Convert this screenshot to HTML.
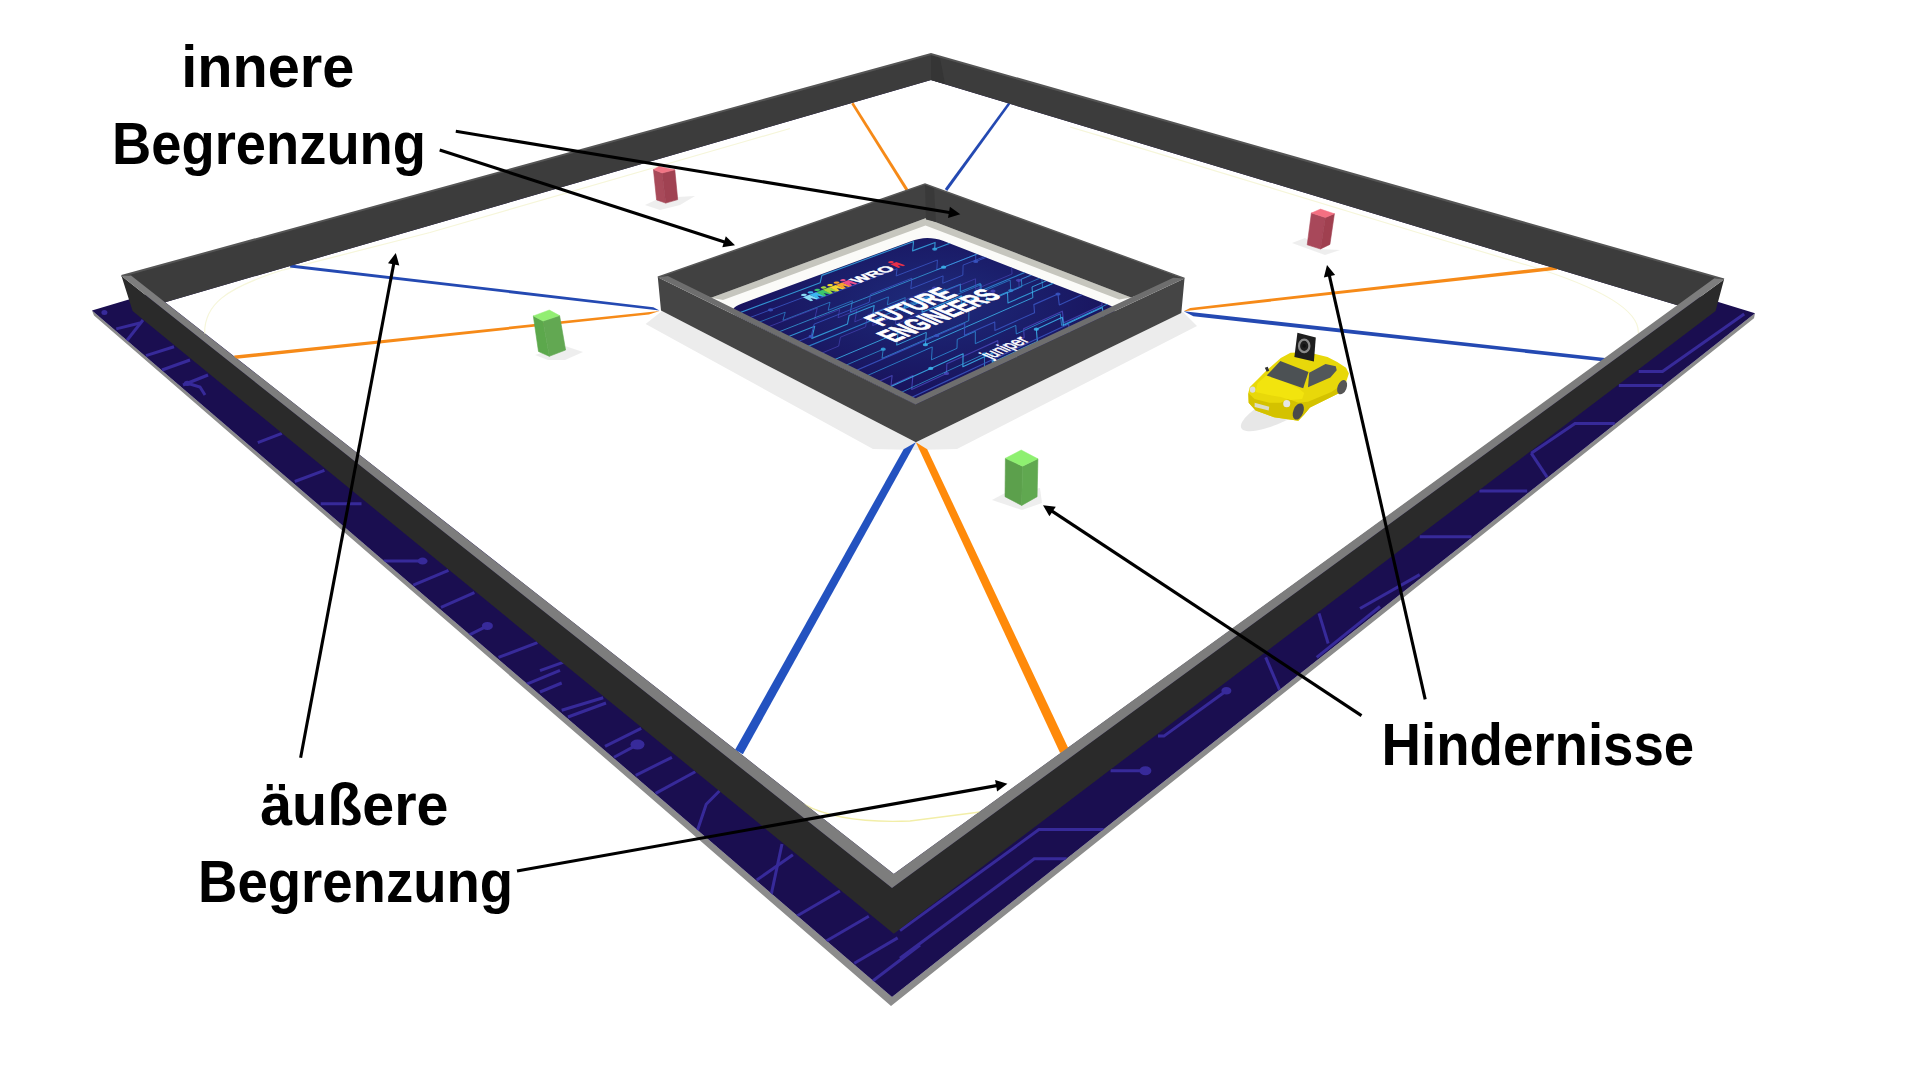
<!DOCTYPE html>
<html><head><meta charset="utf-8"><style>
html,body{margin:0;padding:0;background:#fff;width:1920px;height:1080px;overflow:hidden;position:relative}
svg.L{position:absolute;left:0;top:0;display:block}
text.lbl{font-family:"Liberation Sans",sans-serif;font-weight:bold;font-size:59px;fill:#000}
</style></head><body>
<svg class="L" width="1920" height="1080" viewBox="0 0 1920 1080">
<defs>
<clipPath id="matclip"><polygon points="92.0,310.4 931.0,60.0 1755.0,313.3 892.0,997.0"/></clipPath>
</defs>
<rect width="1920" height="1080" fill="#fff"/>
<polygon points="92.0,310.4 892.0,997.0 1755.0,313.3 1754.0,318.3 891.0,1006.0 94.0,315.4" fill="#8c8c8c" />
<polygon points="92.0,310.4 931.0,60.0 1755.0,313.3 892.0,997.0" fill="#1a0e50" id="matp"/>
<polyline points="116.3,328.9 140.0,323.0" fill="none" stroke="#372a9a" stroke-width="3" clip-path="url(#matclip)"/>
<polyline points="126.7,340.7 143.0,320.0" fill="none" stroke="#372a9a" stroke-width="3" clip-path="url(#matclip)"/>
<polyline points="146.0,355.6 174.0,346.7" fill="none" stroke="#372a9a" stroke-width="3" clip-path="url(#matclip)"/>
<polyline points="162.0,370.0 190.0,360.0" fill="none" stroke="#372a9a" stroke-width="3" clip-path="url(#matclip)"/>
<polyline points="183.0,385.0 208.0,375.0" fill="none" stroke="#372a9a" stroke-width="3" clip-path="url(#matclip)"/>
<polyline points="187.4,383.3 200.0,387.0 205.0,395.0" fill="none" stroke="#372a9a" stroke-width="3" clip-path="url(#matclip)"/>
<polyline points="257.8,442.6 281.9,433.3" fill="none" stroke="#372a9a" stroke-width="3" clip-path="url(#matclip)"/>
<polyline points="294.8,481.5 324.4,470.4" fill="none" stroke="#372a9a" stroke-width="3" clip-path="url(#matclip)"/>
<polyline points="320.7,503.7 361.5,503.7" fill="none" stroke="#372a9a" stroke-width="3" clip-path="url(#matclip)"/>
<polyline points="383.7,561.1 422.6,561.1" fill="none" stroke="#372a9a" stroke-width="3" clip-path="url(#matclip)"/>
<polyline points="413.3,585.2 448.5,570.4" fill="none" stroke="#372a9a" stroke-width="3" clip-path="url(#matclip)"/>
<polyline points="441.0,607.4 474.4,592.6" fill="none" stroke="#372a9a" stroke-width="3" clip-path="url(#matclip)"/>
<polyline points="468.9,635.2 487.4,625.9" fill="none" stroke="#372a9a" stroke-width="3" clip-path="url(#matclip)"/>
<polyline points="498.5,657.4 537.4,642.6" fill="none" stroke="#372a9a" stroke-width="3" clip-path="url(#matclip)"/>
<polyline points="524.4,685.2 560.0,670.4" fill="none" stroke="#372a9a" stroke-width="3" clip-path="url(#matclip)"/>
<polyline points="540.0,670.6 570.7,659.7" fill="none" stroke="#372a9a" stroke-width="3" clip-path="url(#matclip)"/>
<polyline points="540.0,692.0 561.7,683.0" fill="none" stroke="#372a9a" stroke-width="3" clip-path="url(#matclip)"/>
<polyline points="561.7,710.3 603.2,697.7" fill="none" stroke="#372a9a" stroke-width="3" clip-path="url(#matclip)"/>
<polyline points="568.0,717.0 606.0,703.0" fill="none" stroke="#372a9a" stroke-width="3" clip-path="url(#matclip)"/>
<polyline points="605.0,746.4 641.2,728.4" fill="none" stroke="#372a9a" stroke-width="3" clip-path="url(#matclip)"/>
<polyline points="614.0,757.3 637.5,744.6" fill="none" stroke="#372a9a" stroke-width="3" clip-path="url(#matclip)"/>
<polyline points="635.7,775.3 671.9,757.3" fill="none" stroke="#372a9a" stroke-width="3" clip-path="url(#matclip)"/>
<polyline points="655.6,793.4 695.3,771.7" fill="none" stroke="#372a9a" stroke-width="3" clip-path="url(#matclip)"/>
<polyline points="695.3,836.8 706.2,804.2 720.6,789.8" fill="none" stroke="#372a9a" stroke-width="3" clip-path="url(#matclip)"/>
<polyline points="756.8,880.0 792.9,854.8" fill="none" stroke="#372a9a" stroke-width="3" clip-path="url(#matclip)"/>
<polyline points="771.2,894.6 782.0,844.0" fill="none" stroke="#372a9a" stroke-width="3" clip-path="url(#matclip)"/>
<polyline points="796.5,916.2 839.9,891.0" fill="none" stroke="#372a9a" stroke-width="3" clip-path="url(#matclip)"/>
<polyline points="825.4,941.5 868.8,916.2" fill="none" stroke="#372a9a" stroke-width="3" clip-path="url(#matclip)"/>
<polyline points="854.3,963.2 897.7,937.9" fill="none" stroke="#372a9a" stroke-width="3" clip-path="url(#matclip)"/>
<polyline points="872.4,981.3 920.0,945.0" fill="none" stroke="#372a9a" stroke-width="3" clip-path="url(#matclip)"/>
<polyline points="900.0,958.3 1034.3,858.8 1066.7,858.8" fill="none" stroke="#372a9a" stroke-width="3" clip-path="url(#matclip)"/>
<polyline points="900.0,930.6 1038.9,829.6 1103.7,829.6" fill="none" stroke="#372a9a" stroke-width="3" clip-path="url(#matclip)"/>
<polyline points="1110.6,770.8 1145.4,770.8" fill="none" stroke="#372a9a" stroke-width="3" clip-path="url(#matclip)"/>
<polyline points="1158.0,736.1 1163.9,736.1 1226.4,690.7" fill="none" stroke="#372a9a" stroke-width="3" clip-path="url(#matclip)"/>
<polyline points="1265.7,657.4 1279.6,689.8" fill="none" stroke="#372a9a" stroke-width="3" clip-path="url(#matclip)"/>
<polyline points="1319.0,613.4 1328.2,643.5" fill="none" stroke="#372a9a" stroke-width="3" clip-path="url(#matclip)"/>
<polyline points="1316.7,657.4 1380.0,606.5" fill="none" stroke="#372a9a" stroke-width="3" clip-path="url(#matclip)"/>
<polyline points="1360.0,608.5 1419.7,574.6" fill="none" stroke="#372a9a" stroke-width="3" clip-path="url(#matclip)"/>
<polyline points="1419.7,536.8 1471.5,536.8" fill="none" stroke="#372a9a" stroke-width="3" clip-path="url(#matclip)"/>
<polyline points="1479.4,491.0 1527.2,491.0" fill="none" stroke="#372a9a" stroke-width="3" clip-path="url(#matclip)"/>
<polyline points="1531.2,453.2 1575.0,423.4 1614.8,423.4" fill="none" stroke="#372a9a" stroke-width="3" clip-path="url(#matclip)"/>
<polyline points="1531.2,453.2 1547.1,477.1" fill="none" stroke="#372a9a" stroke-width="3" clip-path="url(#matclip)"/>
<polyline points="1618.8,385.5 1662.5,385.5" fill="none" stroke="#372a9a" stroke-width="3" clip-path="url(#matclip)"/>
<polyline points="1638.7,371.6 1662.5,371.6 1744.2,313.9" fill="none" stroke="#372a9a" stroke-width="3" clip-path="url(#matclip)"/>
<ellipse cx="104.4" cy="312.6" rx="3" ry="2.5" fill="#372a9a" clip-path="url(#matclip)"/>
<ellipse cx="187.4" cy="383.3" rx="3.5" ry="2.6" fill="#372a9a" clip-path="url(#matclip)"/>
<ellipse cx="422.6" cy="561.1" rx="5" ry="3.5" fill="#372a9a" clip-path="url(#matclip)"/>
<ellipse cx="487.4" cy="625.9" rx="5.5" ry="4" fill="#372a9a" clip-path="url(#matclip)"/>
<ellipse cx="637.5" cy="744.6" rx="7" ry="5" fill="#372a9a" clip-path="url(#matclip)"/>
<ellipse cx="1145.4" cy="770.8" rx="6" ry="4.5" fill="#372a9a" clip-path="url(#matclip)"/>
<ellipse cx="1226.4" cy="690.7" rx="5" ry="3.8" fill="#372a9a" clip-path="url(#matclip)"/>
<polygon points="931.0,80.0 1678.3,305.6 893.8,874.0 165.2,302.2" fill="#ffffff" />
<path d="M 204.6,334 C 204,305 225,288 283.7,269.8 L 430,232.5 L 750,140 L 790,128.5 M 1070,127 L 1100,135.8 L 1420,233.3 L 1530,266 Q 1640,300 1638.3,333" fill="none" stroke="#f6f6da" stroke-width="1.2"/>
<path d="M 803.7,804.2 C 825,816 860,823 910,821 L 980,812" fill="none" stroke="#f2eea8" stroke-width="1.4"/>
<polygon points="645.6,324.0 662.0,311.0 915.9,442.3 1183.0,312.0 1197.0,326.0 957.0,449.0 915.9,450.0 873.0,449.0" fill="#ececec" />
<polygon points="908.3,189.2 853.5,102.6 851.3,104.0 905.7,190.8" fill="#f68a18" />
<polygon points="947.2,190.9 1010.3,104.1 1008.3,102.5 944.8,189.1" fill="#2449b2" />
<polygon points="659.5,310.6 653.3,307.2 290.4,264.4 290.0,267.4" fill="#2449b2" />
<polygon points="659.5,311.0 648.9,314.4 234.6,359.1 234.2,355.5" fill="#f68a18" />
<polygon points="1183.7,311.2 1190.2,307.9 1556.8,266.3 1557.2,269.7" fill="#f68a18" />
<polygon points="1183.7,311.2 1605.0,357.9 1604.6,361.5 1193.4,316.3" fill="#2449b2" />
<polygon points="915.9,442.3 903.6,449.2 735.1,749.8 742.9,754.2" fill="#2352c0" />
<polygon points="915.9,442.3 1060.1,753.1 1068.7,748.9 927.2,449.2" fill="#ff8a0a" />
<polygon points="121.5,276.0 931.0,54.0 1724.0,279.4 1678.3,305.6 931.0,80.0 165.2,302.2" fill="#3c3c3c" />
<polygon points="931.0,54.0 931.0,80.0 945.0,84.0 940.0,58.0" fill="#353535" />
<polyline points="121.5,276.0 931.0,54.0 1724.0,279.4" fill="none" stroke="#555" stroke-width="2"/>
<polygon points="121.5,276.0 892.0,888.0 1724.0,279.4 1715.6,311.0 893.8,933.8 132.6,311.0" fill="#2a2a2a" />
<polygon points="121.5,276.0 131.0,275.6 893.8,874.0 1714.4,278.3 1724.0,279.4 892.0,888.0" fill="#7d7d7d" />
<polygon points="925.5,218.2 1131.2,297.5 915.6,398.3 711.0,297.8" fill="#fbfbf8" />
<polygon points="711.0,297.8 925.5,218.2 1131.2,297.5 1119.2,299.5 925.5,225.4 723.0,300.0" fill="#c6c6be" />
</svg>
<svg class="L" width="1920" height="1080" viewBox="0 0 1920 1080">
<defs><radialGradient id="mg" gradientUnits="userSpaceOnUse" cx="931.9" cy="302.7" r="190" gradientTransform="translate(931.9 302.7) scale(1 0.45) translate(-931.9 -302.7)"><stop offset="0" stop-color="#1e2c7c"/><stop offset="0.5" stop-color="#1b1f6c"/><stop offset="1" stop-color="#19145e"/></radialGradient><clipPath id="mclip"><polygon points="734.13,314.84 733.08,313.22 732.61,311.66 732.74,310.15 733.44,308.70 734.73,307.31 736.59,305.97 739.02,304.68 742.02,303.44 910.31,241.51 914.72,240.06 919.02,239.01 923.22,238.34 927.32,238.06 931.34,238.16 935.27,238.65 939.13,239.53 942.93,240.79 1102.89,302.85 1107.16,304.30 1110.53,305.73 1113.00,307.12 1114.56,308.49 1115.20,309.83 1114.92,311.14 1113.72,312.42 1111.58,313.67 917.23,405.83"/></clipPath></defs>
<polygon points="734.13,314.84 733.08,313.22 732.61,311.66 732.74,310.15 733.44,308.70 734.73,307.31 736.59,305.97 739.02,304.68 742.02,303.44 910.31,241.51 914.72,240.06 919.02,239.01 923.22,238.34 927.32,238.06 931.34,238.16 935.27,238.65 939.13,239.53 942.93,240.79 1102.89,302.85 1107.16,304.30 1110.53,305.73 1113.00,307.12 1114.56,308.49 1115.20,309.83 1114.92,311.14 1113.72,312.42 1111.58,313.67 917.23,405.83" fill="url(#mg)"/>
<g clip-path="url(#mclip)" fill="none" stroke-linejoin="round" stroke-linecap="round">
<polyline points="731.89,315.67 776.72,298.95 820.14,282.77 821.93,275.36 848.88,265.43 888.72,250.73 913.56,241.57 912.58,250.88 935.11,242.45 934.65,249.08 967.97,236.47" stroke="#36a8e4" stroke-width="1.12" opacity="0.85"/>
<ellipse cx="934.7" cy="249.1" rx="2.6" ry="1.6" fill="#36a8e4" stroke="none" opacity="0.85"/>
<ellipse cx="968.0" cy="236.5" rx="2.6" ry="1.6" fill="#36a8e4" stroke="none" opacity="0.85"/>
<polyline points="741.84,320.63 770.57,309.77 818.13,291.80 816.24,299.60 844.49,288.80 863.78,281.43 897.08,268.71 896.16,275.95 937.43,260.00 936.80,269.89 975.72,254.61 975.71,261.51 1011.45,247.31" stroke="#3a56c4" stroke-width="0.96" opacity="0.85"/>
<ellipse cx="770.6" cy="309.8" rx="2.6" ry="1.6" fill="#3a56c4" stroke="none" opacity="0.85"/>
<ellipse cx="975.7" cy="261.5" rx="2.6" ry="1.6" fill="#3a56c4" stroke="none" opacity="0.85"/>
<polyline points="751.08,325.23 785.26,312.16 782.91,320.45 830.01,302.23 828.23,310.27 852.44,300.80 850.33,312.06 888.45,296.90 887.39,304.80 905.23,297.62 904.37,305.53 945.00,289.00 944.46,299.83 981.33,284.57 981.37,292.16 1010.19,280.08 1010.73,290.60 1041.67,277.41 1042.72,287.83 1063.51,278.81 1064.51,286.25 1080.22,279.35 1081.89,289.82 1104.66,279.64" stroke="#2f8ed8" stroke-width="0.80" opacity="0.85"/>
<ellipse cx="1010.7" cy="290.6" rx="2.6" ry="1.6" fill="#2f8ed8" stroke="none" opacity="0.85"/>
<polyline points="760.44,329.90 790.97,318.08 817.29,307.89 814.55,319.39 839.71,309.49 838.03,317.71 856.80,310.24 854.73,321.81 874.44,313.84 872.67,325.54 896.32,315.81 895.32,324.16 924.34,312.08 923.70,320.34 957.80,305.96 993.02,291.12 993.20,298.86 1019.22,287.76 1018.74,280.28 1034.99,273.42 1066.29,260.23" stroke="#4846b8" stroke-width="0.80" opacity="0.85"/>
<ellipse cx="993.0" cy="291.1" rx="2.6" ry="1.6" fill="#4846b8" stroke="none" opacity="0.85"/>
<ellipse cx="1018.7" cy="280.3" rx="2.6" ry="1.6" fill="#4846b8" stroke="none" opacity="0.85"/>
<polyline points="770.79,335.06 798.30,324.26 827.48,312.80 862.36,299.11 892.71,287.20 917.61,277.42 943.57,267.23 977.30,253.99 996.25,246.55 996.46,253.26 1016.32,245.38 1016.92,254.78" stroke="#3cb6ee" stroke-width="0.80" opacity="0.85"/>
<ellipse cx="1016.9" cy="254.8" rx="2.6" ry="1.6" fill="#3cb6ee" stroke="none" opacity="0.85"/>
<ellipse cx="943.6" cy="267.2" rx="2.6" ry="1.6" fill="#3cb6ee" stroke="none" opacity="0.85"/>
<polyline points="780.41,339.85 814.69,326.22 811.83,338.37 847.51,323.95 849.08,315.59 874.17,305.57 872.92,313.68 905.29,300.60 904.42,308.59 922.95,301.01 922.03,312.25 961.45,295.86 961.26,303.72 986.57,293.06 986.68,300.85 1007.47,291.99 1007.97,302.90 1039.37,289.28 1077.72,272.65 1076.59,265.52" stroke="#36a8e4" stroke-width="1.12" opacity="0.85"/>
<polyline points="790.16,344.71 811.13,336.27 814.00,324.19 849.75,310.02 869.19,302.32 870.46,294.48 911.89,278.25 910.83,288.73 943.11,275.88 942.72,283.27 962.85,275.16 963.08,265.12 980.98,258.02 1002.23,249.61" stroke="#3a56c4" stroke-width="0.96" opacity="0.85"/>
<ellipse cx="811.1" cy="336.3" rx="2.6" ry="1.6" fill="#3a56c4" stroke="none" opacity="0.85"/>
<polyline points="800.04,349.64 846.43,330.71 887.30,314.03 906.78,306.08 925.02,298.64 960.45,284.19 960.25,291.77 980.22,283.52 980.26,291.09 1008.34,279.35 1038.64,266.68 1039.62,276.76 1073.79,262.23 1072.73,255.33" stroke="#2f8ed8" stroke-width="1.12" opacity="0.85"/>
<ellipse cx="800.0" cy="349.6" rx="2.6" ry="1.6" fill="#2f8ed8" stroke="none" opacity="0.85"/>
<ellipse cx="925.0" cy="298.6" rx="2.6" ry="1.6" fill="#2f8ed8" stroke="none" opacity="0.85"/>
<polyline points="813.73,356.46 838.70,346.08 840.43,337.18 865.60,326.85 867.50,315.10 898.85,302.45 934.53,288.04 934.03,295.72 975.48,278.79 975.45,289.27 1012.04,274.07 1011.65,266.90 1041.15,254.79 1042.15,264.49" stroke="#4846b8" stroke-width="0.80" opacity="0.85"/>
<ellipse cx="934.5" cy="288.0" rx="2.6" ry="1.6" fill="#4846b8" stroke="none" opacity="0.85"/>
<ellipse cx="1041.1" cy="254.8" rx="2.6" ry="1.6" fill="#4846b8" stroke="none" opacity="0.85"/>
<polyline points="826.73,362.94 858.06,349.70 898.05,332.80 896.64,345.16 926.30,332.41 925.40,344.74 961.64,328.88 981.16,320.34 1011.38,307.11 1032.90,297.70 1032.00,286.96 1057.04,276.19 1088.30,262.75" stroke="#3cb6ee" stroke-width="0.96" opacity="0.85"/>
<ellipse cx="925.4" cy="344.7" rx="2.6" ry="1.6" fill="#3cb6ee" stroke="none" opacity="0.85"/>
<ellipse cx="1057.0" cy="276.2" rx="2.6" ry="1.6" fill="#3cb6ee" stroke="none" opacity="0.85"/>
<polyline points="838.05,368.58 883.24,349.20 882.03,358.41 916.27,343.53 936.82,334.61 968.79,320.73 968.93,309.22 986.69,301.64 1021.89,286.62 1021.38,279.16 1048.69,267.65 1049.50,274.83 1066.78,267.46" stroke="#36a8e4" stroke-width="0.80" opacity="0.85"/>
<ellipse cx="883.2" cy="349.2" rx="2.6" ry="1.6" fill="#36a8e4" stroke="none" opacity="0.85"/>
<polyline points="848.59,373.83 898.49,352.13 936.77,335.48 964.68,323.35 964.46,335.35 994.72,321.95 994.94,330.44 1034.54,312.68 1033.86,304.63 1057.96,293.96 1059.30,304.93 1098.83,287.11" stroke="#3a56c4" stroke-width="1.12" opacity="0.85"/>
<ellipse cx="1058.0" cy="294.0" rx="2.6" ry="1.6" fill="#3a56c4" stroke="none" opacity="0.85"/>
<ellipse cx="936.8" cy="335.5" rx="2.6" ry="1.6" fill="#3a56c4" stroke="none" opacity="0.85"/>
<polyline points="859.26,379.15 901.25,360.64 932.28,346.95 931.47,359.81 956.97,348.36 957.23,339.42 975.33,331.40 975.30,343.68 1015.81,325.40 1016.29,333.97 1038.02,324.03 1060.21,313.88 1061.63,325.53 1081.89,316.09 1121.23,297.76" stroke="#2f8ed8" stroke-width="0.96" opacity="0.85"/>
<ellipse cx="1121.2" cy="297.8" rx="2.6" ry="1.6" fill="#2f8ed8" stroke="none" opacity="0.85"/>
<polyline points="871.08,385.04 892.13,375.61 891.00,385.52 912.88,375.59 911.67,389.52 946.46,373.44 946.86,363.86 976.69,350.25 997.78,340.63 998.04,349.60 1024.19,337.51 1023.62,328.85 1062.35,311.19 1063.80,322.74 1102.15,304.92 1100.68,297.06 1125.20,285.82 1127.62,296.49" stroke="#4846b8" stroke-width="1.12" opacity="0.85"/>
<ellipse cx="946.5" cy="373.4" rx="2.6" ry="1.6" fill="#4846b8" stroke="none" opacity="0.85"/>
<ellipse cx="1125.2" cy="285.8" rx="2.6" ry="1.6" fill="#4846b8" stroke="none" opacity="0.85"/>
<polyline points="882.08,390.52 930.71,368.42 963.11,353.71 962.85,366.80 992.08,353.28 992.27,362.57 1037.37,341.41 1036.33,329.22 1062.34,317.25 1063.39,325.61 1102.25,307.48 1104.37,318.89 1121.24,310.86 1119.54,302.87 1156.27,285.64" stroke="#3cb6ee" stroke-width="1.12" opacity="0.85"/>
<ellipse cx="930.7" cy="368.4" rx="2.6" ry="1.6" fill="#3cb6ee" stroke="none" opacity="0.85"/>
<ellipse cx="1036.3" cy="329.2" rx="2.6" ry="1.6" fill="#3cb6ee" stroke="none" opacity="0.85"/>
<polyline points="893.23,396.08 918.47,384.44 941.43,373.86 984.39,354.05 984.52,367.16 1016.30,352.23 1017.01,365.26 1041.05,353.75 1042.21,366.82 1085.08,345.89 1086.45,354.97 1122.52,337.11 1149.78,323.61 1151.91,332.11 1168.84,323.61 1171.20,332.11 1186.88,324.12 1214.90,309.83" stroke="#36a8e4" stroke-width="0.80" opacity="0.85"/>
<ellipse cx="1171.2" cy="332.1" rx="2.6" ry="1.6" fill="#36a8e4" stroke="none" opacity="0.85"/>
<ellipse cx="984.4" cy="354.1" rx="2.6" ry="1.6" fill="#36a8e4" stroke="none" opacity="0.85"/>
<polyline points="903.50,401.20 951.27,378.88 976.68,367.01 1007.83,352.46 1051.09,332.25 1068.61,324.06 1070.20,336.06 1110.67,316.79 1149.22,298.44 1151.27,306.32" stroke="#3a56c4" stroke-width="1.12" opacity="0.85"/>
</g>
<polygon points="802.86,297.29 809.53,294.77 818.39,298.49 816.11,299.36 810.42,297.97 813.19,300.47 810.89,301.35" fill="#8adcf5"/><polygon points="806.14,294.09 806.76,294.62 806.60,295.25 805.70,295.80 804.31,296.11 802.79,296.12 801.56,295.81 800.95,295.27 801.12,294.64 802.02,294.10 803.41,293.78 804.92,293.78" fill="#8adcf5"/>
<polygon points="809.53,294.77 816.15,292.27 825.01,295.96 822.74,296.83 817.06,295.44 819.85,297.93 817.56,298.80" fill="#3bb8ee"/><polygon points="812.77,291.59 813.39,292.13 813.23,292.75 812.34,293.29 810.96,293.61 809.45,293.61 808.22,293.30 807.60,292.77 807.77,292.15 808.66,291.61 810.04,291.29 811.54,291.29" fill="#3bb8ee"/>
<polygon points="816.15,292.27 822.71,289.79 831.57,293.45 829.32,294.31 823.65,292.94 826.45,295.41 824.19,296.28" fill="#3cc46c"/><polygon points="819.34,289.12 819.96,289.65 819.81,290.27 818.93,290.80 817.55,291.12 816.05,291.12 814.83,290.82 814.21,290.28 814.36,289.67 815.24,289.13 816.62,288.82 818.12,288.82" fill="#3cc46c"/>
<polygon points="822.71,289.79 829.22,287.33 838.09,290.97 835.85,291.82 830.19,290.46 833.00,292.91 830.76,293.77" fill="#a2d63c"/><polygon points="825.86,286.66 826.48,287.19 826.34,287.80 825.47,288.34 824.10,288.65 822.60,288.65 821.38,288.35 820.76,287.82 820.91,287.21 821.78,286.68 823.15,286.37 824.64,286.36" fill="#a2d63c"/>
<polygon points="829.22,287.33 835.68,284.89 844.55,288.50 842.33,289.35 836.68,287.99 839.50,290.43 837.28,291.28" fill="#f2d630"/><polygon points="832.33,284.23 832.95,284.75 832.82,285.36 831.96,285.89 830.60,286.20 829.11,286.20 827.88,285.90 827.26,285.38 827.40,284.77 828.27,284.24 829.62,283.93 831.11,283.93" fill="#f2d630"/>
<polygon points="835.68,284.89 842.10,282.47 850.96,286.05 848.76,286.89 843.12,285.55 845.95,287.96 843.74,288.81" fill="#f6a230"/><polygon points="838.74,281.81 839.37,282.33 839.25,282.93 838.39,283.46 837.04,283.76 835.56,283.77 834.34,283.47 833.71,282.95 833.84,282.35 834.70,281.83 836.05,281.52 837.53,281.52" fill="#f6a230"/>
<polygon points="842.10,282.47 848.46,280.07 857.32,283.62 855.14,284.46 849.50,283.12 852.35,285.52 850.16,286.36" fill="#ec4f8c"/><polygon points="845.11,279.41 845.75,279.93 845.62,280.53 844.78,281.05 843.44,281.35 841.96,281.36 840.74,281.06 840.11,280.54 840.24,279.95 841.09,279.43 842.43,279.12 843.90,279.12" fill="#ec4f8c"/>
<polygon points="890.34,264.26 896.33,261.99 905.18,265.35 903.12,266.13 897.56,264.87 900.50,267.13 898.43,267.92" fill="#e8304a"/><polygon points="893.04,261.37 893.69,261.86 893.62,262.42 892.83,262.91 891.55,263.20 890.12,263.20 888.92,262.92 888.27,262.43 888.35,261.87 889.14,261.38 890.41,261.10 891.84,261.09" fill="#e8304a"/>
<text transform="matrix(0.193225 -0.073329 0.169292 0.072261 738.482 305.729)" x="470" y="170" font-family="Liberation Sans" font-weight="bold" font-size="80" fill="#fff" stroke="#fff" stroke-width="3" textLength="196" lengthAdjust="spacingAndGlyphs">WRO</text>
<text transform="matrix(0.198098 -0.081116 0.182154 0.079615 731.980 307.496)" x="470" y="520" text-anchor="middle" font-family="Liberation Sans" font-weight="bold" font-size="150" fill="#fff" stroke="#fff" stroke-width="5" stroke-linejoin="round" textLength="390" lengthAdjust="spacingAndGlyphs">FUTURE</text>
<text transform="matrix(0.196908 -0.083207 0.187648 0.081586 729.611 307.447)" x="492" y="650" text-anchor="middle" font-family="Liberation Sans" font-weight="bold" font-size="150" fill="#fff" stroke="#fff" stroke-width="5" stroke-linejoin="round" textLength="550" lengthAdjust="spacingAndGlyphs">ENGINEERS</text>
<text transform="matrix(0.197258 -0.091291 0.204084 0.089200 716.598 305.383)" x="372" y="985" font-family="Liberation Sans" font-size="90" fill="#fff" stroke="#fff" stroke-width="3" textLength="200" lengthAdjust="spacingAndGlyphs">juniper</text>
</svg>
<svg class="L" width="1920" height="1080" viewBox="0 0 1920 1080">
<polygon points="657.8,277.2 925.0,184.0 1184.5,278.4 1131.2,297.5 925.5,218.2 711.0,297.8" fill="#414141" />
<polygon points="925.0,184.0 926.0,219.6 936.0,222.0 934.0,188.0" fill="#393939" />
<polyline points="657.8,277.2 925.0,184.0 1184.5,278.4" fill="none" stroke="#575757" stroke-width="1.5"/>
<polygon points="657.8,277.2 915.6,404.4 1184.5,278.4 1181.3,313.0 915.9,442.3 661.0,310.6" fill="#454545" />
<polygon points="657.8,277.2 667.8,276.1 915.6,398.3 1173.3,277.8 1184.5,278.4 915.6,404.4" fill="#6e6e6e" />
<polygon points="645.0,205.0 660.0,198.0 695.0,196.0 680.0,205.0 660.0,210.0" fill="#e8e8e8" opacity="0.75"/>
<polygon points="653.4,169.4 662.1,173.0 665.7,203.1 656.6,199.9" fill="#a84a5a" stroke="#a84a5a" stroke-width="0.6" stroke-linejoin="round"/>
<polygon points="662.1,173.0 674.8,169.8 677.7,199.6 665.7,203.1" fill="#a04252" stroke="#a04252" stroke-width="0.6" stroke-linejoin="round"/>
<polygon points="653.4,169.4 658.9,166.5 674.8,169.8 662.1,173.0" fill="#f27585" stroke="#f27585" stroke-width="0.5" stroke-linejoin="round"/>
<polygon points="1292.0,243.0 1305.0,238.0 1320.0,249.0 1340.0,250.0 1325.0,255.0" fill="#e8e8e8" opacity="0.75"/>
<polygon points="1311.4,213.0 1325.4,217.5 1320.5,249.0 1307.2,244.8" fill="#a8485a" stroke="#a8485a" stroke-width="0.6" stroke-linejoin="round"/>
<polygon points="1325.4,217.5 1334.4,213.7 1329.9,244.4 1320.5,249.0" fill="#a04050" stroke="#a04050" stroke-width="0.6" stroke-linejoin="round"/>
<polygon points="1311.4,213.0 1320.5,209.1 1334.4,213.7 1325.4,217.5" fill="#f47082" stroke="#f47082" stroke-width="0.5" stroke-linejoin="round"/>
<polygon points="535.0,355.0 565.0,346.0 583.0,352.0 565.0,360.0 548.0,360.0" fill="#e8e8e8" opacity="0.75"/>
<polygon points="533.3,315.9 543.0,321.1 549.3,356.3 538.5,351.5" fill="#5ca84c" stroke="#5ca84c" stroke-width="0.6" stroke-linejoin="round"/>
<polygon points="543.0,321.1 559.6,315.6 565.6,350.0 549.3,356.3" fill="#62a852" stroke="#62a852" stroke-width="0.6" stroke-linejoin="round"/>
<polygon points="533.3,315.9 549.3,310.0 559.6,315.6 543.0,321.1" fill="#92ee72" stroke="#92ee72" stroke-width="0.5" stroke-linejoin="round"/>
<polygon points="992.0,500.0 1005.0,493.0 1040.0,488.0 1042.0,503.0 1022.0,510.0" fill="#e8e8e8" opacity="0.75"/>
<polygon points="1005.4,458.3 1022.5,466.2 1021.7,505.4 1005.0,496.7" fill="#5ca04c" stroke="#5ca04c" stroke-width="0.6" stroke-linejoin="round"/>
<polygon points="1022.5,466.2 1037.9,458.8 1037.1,496.7 1021.7,505.4" fill="#60a850" stroke="#60a850" stroke-width="0.6" stroke-linejoin="round"/>
<polygon points="1005.4,458.3 1021.2,450.0 1037.9,458.8 1022.5,466.2" fill="#8ef070" stroke="#8ef070" stroke-width="0.5" stroke-linejoin="round"/>

<ellipse cx="1280.8" cy="408.6" rx="44" ry="13" fill="#e4e4e4" opacity="0.9" transform="rotate(-26 1280.8 408.6)"/>
<polygon points="1248.3,393.0 1248.7,402.8 1255.6,410.5 1274.0,417.3 1291.5,419.8 1298.3,420.8 1304.2,414.4 1310.0,407.6 1335.3,395.0 1339.2,393.0 1345.0,385.3 1348.9,373.6 1346.0,367.8 1337.2,361.9 1327.5,357.1 1308.0,352.2 1290.5,352.7 1280.8,358.1 1266.2,370.7 1257.5,379.4 1249.7,387.2" fill="#e8d80a"/>
<polygon points="1248.3,393.0 1248.7,402.8 1255.6,410.5 1274.0,417.3 1291.5,419.8 1298.3,420.8 1304.2,414.4 1310.0,407.6 1335.3,395.0 1339.2,393.0 1345.0,385.3 1344.0,383.3 1331.4,392.1 1308.0,401.8 1298.3,402.8 1288.6,398.9 1280.8,402.8 1269.2,402.8 1254.6,398.9" fill="#d4c200"/>
<polygon points="1257.5,383.3 1266.2,375.5 1280.8,379.4 1298.3,388.2 1304.2,393.0 1302.2,398.9 1290.5,399.9 1280.8,396.9 1269.2,395.0 1255.6,392.1" fill="#f2e40e"/>
<polygon points="1280.3,361.0 1308.5,372.1 1303.2,388.2 1266.7,375.5" fill="#4c5154"/>
<polygon points="1309.2,372.8 1325.5,363.9 1335.8,366.3 1336.7,370.2 1330.4,377.5 1308.0,387.2" fill="#52575a"/>
<ellipse cx="1298.3" cy="411.5" rx="5" ry="8.5" fill="#4a4a4a" transform="rotate(22 1298.3 411.5)"/>
<ellipse cx="1342.1" cy="387.2" rx="4.5" ry="7.5" fill="#555" transform="rotate(22 1342.1 387.2)"/>
<ellipse cx="1252.6" cy="389.6" rx="2.8" ry="3.2" fill="#ddd"/>
<ellipse cx="1286.7" cy="403.7" rx="3.5" ry="3.6" fill="#e6e6e6"/>
<polygon points="1254.6,402.8 1269.2,406.7 1268.7,410.5 1254.6,407.1" fill="#dcdcc8"/>
<polygon points="1264.8,367.8 1267.7,366.8 1269.2,370.7 1266.7,371.7" fill="#333"/>
<polygon points="1297.4,332.8 1315.8,337.6 1313.9,361.5 1294.4,357.1" fill="#1e1e1e"/>
<ellipse cx="1304.2" cy="345.9" rx="5.2" ry="6.2" fill="none" stroke="#8a8a8a" stroke-width="2.2"/>
<circle cx="1304.2" cy="345.9" r="1.8" fill="#111"/>

<line x1="455.8" y1="131.3" x2="950.9" y2="212.7" stroke="#000" stroke-width="3.1"/>
<polygon points="960.3,214.2 948.0,218.0 949.9,206.7" fill="#000" />
<line x1="439.7" y1="150.0" x2="726.0" y2="242.4" stroke="#000" stroke-width="3.1"/>
<polygon points="735.0,245.3 722.3,247.2 725.8,236.3" fill="#000" />
<line x1="300.6" y1="757.7" x2="394.0" y2="262.3" stroke="#000" stroke-width="3.1"/>
<polygon points="395.8,253.0 399.3,265.4 388.0,263.2" fill="#000" />
<line x1="517.0" y1="871.0" x2="998.0" y2="785.4" stroke="#000" stroke-width="3.1"/>
<polygon points="1007.4,783.7 997.1,791.4 995.1,780.1" fill="#000" />
<line x1="1361.5" y1="715.6" x2="1050.9" y2="510.4" stroke="#000" stroke-width="3.1"/>
<polygon points="1043.0,505.2 1055.8,506.7 1049.4,516.3" fill="#000" />
<line x1="1425.2" y1="699.3" x2="1329.1" y2="274.3" stroke="#000" stroke-width="3.1"/>
<polygon points="1327.0,265.0 1335.1,274.9 1323.9,277.5" fill="#000" />
<text class="lbl" x="0" y="0" transform="translate(181.2 87.4) scale(0.978 1)">innere</text>
<text class="lbl" x="0" y="0" transform="translate(112.1 163.6) scale(0.921 1)">Begrenzung</text>
<text class="lbl" x="0" y="0" transform="translate(260.15 825) scale(0.974 1)">äußere</text>
<text class="lbl" x="0" y="0" transform="translate(198.1 901.6) scale(0.924 1)">Begrenzung</text>
<text class="lbl" x="0" y="0" transform="translate(1381.6 765) scale(0.926 1)">Hindernisse</text>
</svg>
</body></html>
